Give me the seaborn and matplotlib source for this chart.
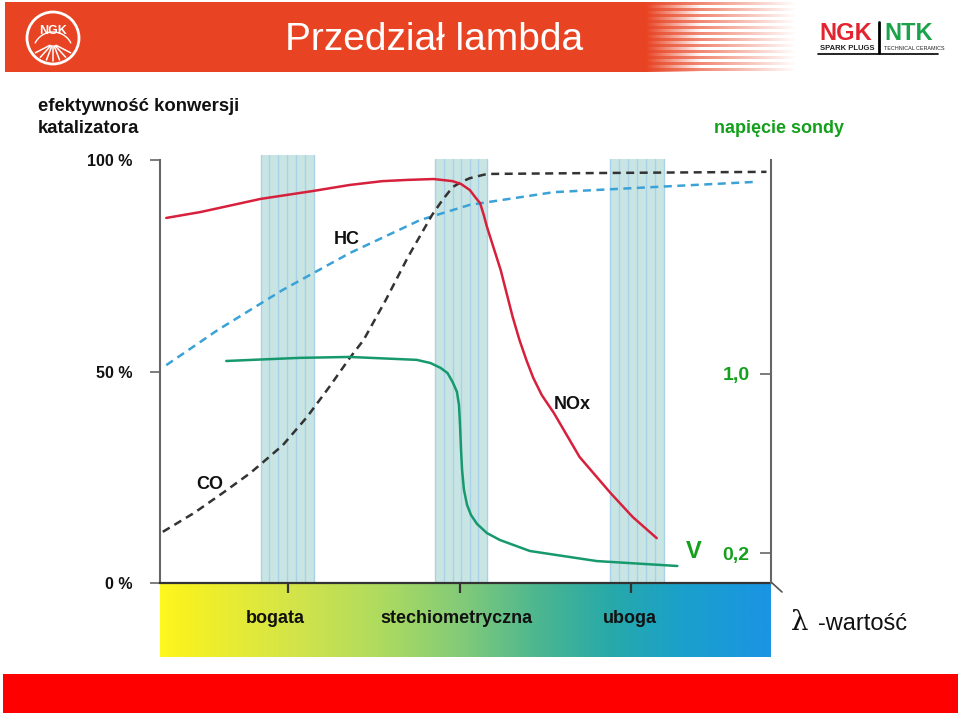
import numpy as np
import matplotlib
matplotlib.use("Agg")
import matplotlib.pyplot as plt
import matplotlib.transforms as mtransforms
from matplotlib.colors import LinearSegmentedColormap, to_rgb
from matplotlib.patches import Rectangle, Circle
import seaborn as sns

# ---------------- data ----------------
# NOx conversion efficiency [%] vs lambda
nox_lambda = [0.829, 0.849, 0.884, 0.915, 0.936, 0.955, 0.970, 0.985, 0.996, 1.001,
              1.006, 1.009, 1.012, 1.014, 1.016, 1.024, 1.031, 1.035, 1.039, 1.043,
              1.048, 1.055, 1.070, 1.088, 1.101, 1.115]
nox_eff = [86.3, 87.7, 90.8, 92.7, 94.1, 95.0, 95.3, 95.5, 95.0, 94.3,
           92.9, 91.3, 89.8, 87.2, 84.2, 74.0, 62.9, 57.4, 52.7, 48.5,
           44.4, 40.2, 29.8, 21.3, 15.6, 10.6]

# HC conversion efficiency [%]
hc_lambda = [0.829, 0.859, 0.897, 0.936, 0.977, 1.006, 1.055, 1.113, 1.171]
hc_eff = [51.5, 59.8, 69.3, 78.0, 85.8, 89.4, 92.4, 93.6, 94.8]

# CO conversion efficiency [%]
co_lambda = [0.827, 0.845, 0.862, 0.878, 0.885, 0.897, 0.911, 0.924, 0.936, 0.944,
             0.957, 0.970, 0.984, 0.990, 0.996, 1.0015, 1.006, 1.016, 1.074, 1.179]
co_eff = [12.1, 16.5, 21.3, 26.0, 28.4, 32.6, 39.2, 46.3, 53.2, 57.4,
          66.9, 77.1, 87.0, 90.5, 93.6, 94.9, 95.7, 96.7, 96.9, 97.2]

# lambda sensor voltage [V]
probe_lambda = [0.864, 0.907, 0.936, 0.975, 0.983, 0.989, 0.993, 0.996, 0.9985, 0.9997,
                1.0003, 1.0009, 1.0015, 1.0026, 1.0044, 1.0067, 1.0102, 1.016, 1.0236,
                1.041, 1.080, 1.127]
probe_volt = [1.058, 1.072, 1.076, 1.063, 1.049, 1.027, 1.004, 0.964, 0.920, 0.861,
              0.772, 0.660, 0.571, 0.482, 0.415, 0.370, 0.330, 0.289, 0.258,
              0.209, 0.164, 0.142]

# highlighted lambda windows
band_lo = [0.884, 0.986, 1.088]
band_hi = [0.915, 1.016, 1.119]
band_top = [101.2, 100.2, 100.2]

# axis ticks / labels
zone_ticks = [0.9, 1.0, 1.1]
zone_label_x = [0.8924, 0.9985, 1.0991]
zone_names = ["bogata", "stechiometryczna", "uboga"]
eff_ticks = [0, 50, 100]
eff_labels = ["0 %", "50 %", "100 %"]
volt_ticks = [0.2, 1.0]
volt_labels = ["0,2", "1,0"]

# ---------------- style ----------------
sns.set_style("white")
plt.rcParams["font.family"] = ["Liberation Sans", "DejaVu Sans"]

HEADER = "#e84424"
RED = "#d7203c"
BLUE = "#3aa2d6"
BLACK = "#333333"
GREEN_LINE = "#17996e"
GREEN_TXT = "#14a01c"
BAND = "#c8e5e4"
BANDLINE = "#a9d2e8"

fig = plt.figure(figsize=(9.6, 7.16), dpi=100, facecolor="white")

# background / decoration layer in pixel units
bg = fig.add_axes([0, 0, 1, 1], zorder=0)
bg.axis("off")

bg.add_patch(Rectangle((5, 2), 642, 70, facecolor=HEADER, edgecolor="none"))
fade_w, rows = 150, 70
img = np.zeros((rows, fade_w, 4))
img[..., :3] = to_rgb(HEADER)
xs = np.arange(fade_w)
for r in range(rows):
    L = 150 if (r % 6) < 3 else 55
    img[r, :, 3] = np.clip(1 - xs / L, 0, 1)
bg.imshow(img, extent=[646, 796, 72, 2], interpolation="bilinear", aspect="auto")

# NGK round logo
bg.add_patch(Circle((53, 38), 26, facecolor=HEADER, edgecolor="white", lw=2))
bg.text(53, 31, "NGK", color="white", fontsize=9, fontweight="bold", ha="center", va="center")
t = np.linspace(np.pi * 0.15, np.pi * 0.85, 40)
bg.plot(53 + 20 * np.cos(t), 38 - 20 * np.sin(t) + 14, color="white", lw=1)
for a in np.linspace(-50, 50, 7):
    ra = np.deg2rad(a)
    bg.plot([53 + 4 * np.sin(ra), 53 + 23 * np.sin(ra)],
            [44 + 2 * np.cos(ra), 38 + 23 * np.cos(ra)], color="white", lw=1.1)

bg.text(434, 50, "Przedział lambda", color="white", fontsize=28,
        ha="center", va="baseline")

# NGK | NTK logo
bg.text(819, 40, "NGK", color="#e3232f", fontsize=17, fontweight="bold", va="baseline")
bg.text(884, 40, "NTK", color="#1aa34a", fontsize=17, fontweight="bold", va="baseline")
bg.plot([879, 879], [22, 53], color="black", lw=2)
bg.plot([818, 938], [54, 54], color="black", lw=1.2)
bg.text(820, 49.5, "SPARK PLUGS", color="#222222", fontsize=5.5, fontweight="bold", va="baseline")
bg.text(884, 49.5, "TECHNICAL CERAMICS", color="#222222", fontsize=3.9, va="baseline")

bg.text(38, 111, "efektywność konwersji", fontsize=13.3, fontweight="bold", va="baseline", color="#111111")
bg.text(38, 133, "katalizatora", fontsize=13.3, fontweight="bold", va="baseline", color="#111111")
bg.text(779, 133, "napięcie sondy", fontsize=13, fontweight="bold", va="baseline",
        ha="center", color=GREEN_TXT)

# gradient lambda bar
grad = LinearSegmentedColormap.from_list(
    "lam", [(0.0, "#fff720"), (0.04, "#f6f122"), (0.22, "#d3e44a"), (0.36, "#aedb5f"),
            (0.49, "#84cb78"), (0.62, "#4cb690"), (0.74, "#27a9aa"), (0.86, "#1aa0cc"),
            (1.0, "#1a94e4")])
bg.imshow(np.linspace(0, 1, 512)[None, :], cmap=grad, extent=[160, 771, 657, 583],
          aspect="auto", interpolation="bilinear")
bg.plot([771, 782], [582, 592], color="#555555", lw=1.2)
bg.text(791, 630, "λ", family=["DejaVu Serif"], fontsize=20, va="baseline", color="#111111")
bg.text(818, 630, "-wartość", fontsize=17, va="baseline", color="#111111")

# bottom red bar
bg.add_patch(Rectangle((3, 674), 955, 39, facecolor="#ff0000", edgecolor="none"))
bg.set_xlim(0, 960)
bg.set_ylim(716, 0)

# ---------------- main chart ----------------
ax = fig.add_axes([160 / 960, (716 - 583) / 716, 611 / 960, 423 / 716], zorder=2)
ax.patch.set_visible(False)

for lo, hi, top in zip(band_lo, band_hi, band_top):
    ax.axvspan(lo, hi, ymin=0, ymax=top / 100, facecolor=BAND, edgecolor="none",
               clip_on=False, zorder=1)
    for xv in np.linspace(lo, hi, 7):
        ax.plot([xv, xv], [0, top], color=BANDLINE, lw=1, clip_on=False, zorder=1.2)

sns.lineplot(x=nox_lambda, y=nox_eff, ax=ax, color=RED, lw=1.8, sort=False,
             estimator=None, zorder=4)
sns.lineplot(x=hc_lambda, y=hc_eff, ax=ax, color=BLUE, lw=1.8, sort=False,
             estimator=None, linestyle=(0, (3.2, 2.2)), zorder=3)
sns.lineplot(x=co_lambda, y=co_eff, ax=ax, color=BLACK, lw=1.8, sort=False,
             estimator=None, linestyle=(0, (3.2, 2.2)), zorder=3)

ax.set_xlim(0.82536, 1.18163)
ax.set_ylim(0, 100)

ax.set_yticks(eff_ticks)
ax.set_yticklabels(eff_labels)
ax.tick_params(axis="y", direction="out", length=7, width=1.2, color="#666666",
               pad=13, labelsize=11.5, labelcolor="#111111", left=True)
ax.yaxis.get_major_ticks()[0].tick1line.set_visible(False)
for lbl in ax.get_yticklabels():
    lbl.set_fontweight("bold")

ax.set_xticks(zone_ticks)
ax.set_xticklabels([])
ax.tick_params(axis="x", direction="out", length=7.5, width=1.6, color="#333333", bottom=True)

xt = ax.get_xaxis_transform()
for lx, name in zip(zone_label_x, zone_names):
    ax.text(lx, -0.085, name, transform=xt, ha="center", va="center",
            fontsize=13, fontweight="bold", color="#111111")

ax.text(0.9344, 81.3, "HC", ha="center", va="center", fontsize=13, fontweight="bold", color="#111111")
ax.text(1.0656, 42.1, "NOx", ha="center", va="center", fontsize=13, fontweight="bold", color="#111111")
ax.text(0.8545, 23.4, "CO", ha="center", va="center", fontsize=13, fontweight="bold", color="#111111")

ax.spines["top"].set_visible(False)
ax.spines["right"].set_visible(False)
ax.spines["left"].set_color("#666666")
ax.spines["left"].set_linewidth(1.5)
ax.spines["bottom"].set_color("#333333")
ax.spines["bottom"].set_linewidth(1.6)
ax.set_xlabel("")
ax.set_ylabel("")

# sensor voltage axis
ax2 = ax.twinx()
sns.lineplot(x=probe_lambda, y=probe_volt, ax=ax2, color=GREEN_LINE, lw=1.8,
             sort=False, estimator=None, zorder=4)
ax2.set_ylim(0.066, 1.956)
ax2.set_yticks(volt_ticks)
ax2.set_yticklabels(volt_labels)
ax2.tick_params(axis="y", direction="in", length=8, width=1.2, color="#666666",
                pad=-35, labelsize=14, labelcolor=GREEN_TXT, right=True)
for lbl in ax2.get_yticklabels():
    lbl.set_fontweight("bold")
for s in ["top", "left", "bottom"]:
    ax2.spines[s].set_visible(False)
ax2.spines["right"].set_color("#666666")
ax2.spines["right"].set_linewidth(1.5)
ax2.set_ylabel("")
vt = mtransforms.blended_transform_factory(ax2.transAxes, ax2.transData)
ax2.text(0.874, 0.205, "V", transform=vt, ha="center", va="center", fontsize=17,
         fontweight="bold", color=GREEN_TXT)

fig.savefig("out.png", dpi=100, facecolor="white")
